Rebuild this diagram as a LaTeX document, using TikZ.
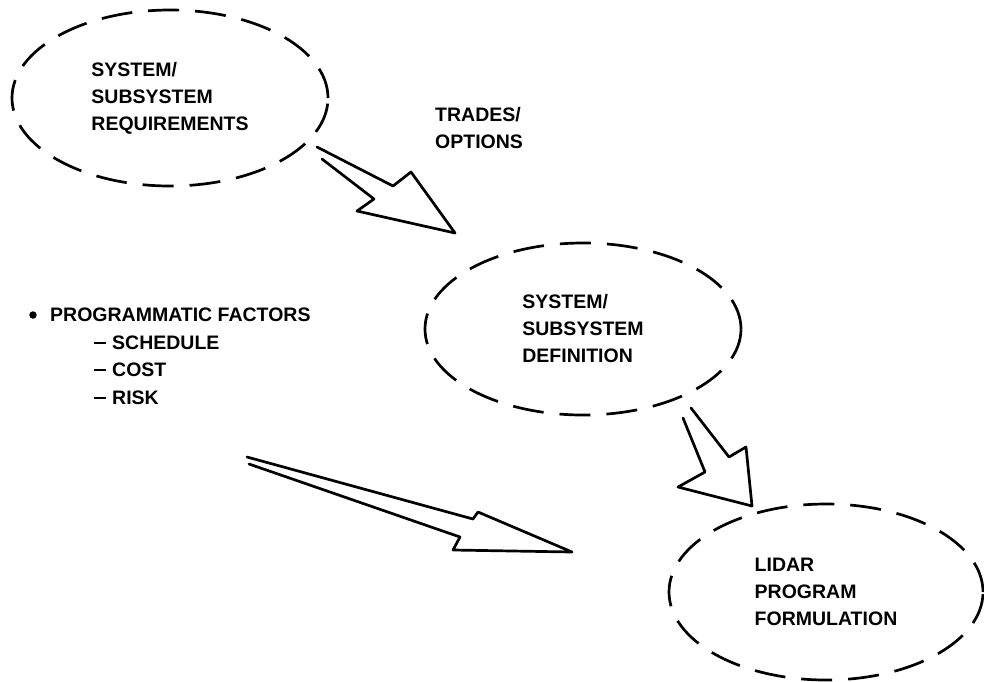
\documentclass[tikz,border=0pt]{standalone}
\usepackage{fontspec}
\setmainfont{Liberation Sans}
\usetikzlibrary{shapes.geometric}
\begin{document}
\begin{tikzpicture}[x=1pt,y=-1pt,
  bubble/.style={ellipse,draw,line width=2.7pt,dash pattern=on 31pt off 16pt,
    align=left,inner sep=0pt,font=\bfseries\fontsize{19.5}{27}\selectfont},
  lbl/.style={align=left,inner sep=0pt,anchor=west,font=\bfseries\fontsize{19.5}{27.5}\selectfont},
  blockarrow/.style={draw,line width=2.7pt,line join=round,line cap=round}]
\useasboundingbox (0,0) rectangle (984,681);
\node[bubble,minimum width=316pt,minimum height=176pt] (req) at (170,98)
  {SYSTEM/\\SUBSYSTEM\\REQUIREMENTS};
\node[bubble,minimum width=316pt,minimum height=172pt] (def) at (583,329)
  {SYSTEM/\\SUBSYSTEM\\DEFINITION};
\node[bubble,minimum width=314pt,minimum height=176pt] (lidar) at (826,592)
  {LIDAR\\PROGRAM\\FORMULATION};
\node[lbl] (trades) at (435,128) {TRADES/\\OPTIONS};
\node[circle,fill,inner sep=0pt,minimum size=7.5pt] (dot) at (33,315) {};
\node[lbl] (prog) at (50,315) {PROGRAMMATIC FACTORS};
\node[lbl] (sched) at (94,343) {\rule[0.3em]{12pt}{2.2pt}\hspace{6pt}SCHEDULE};
\node[lbl] (cost) at (94,370) {\rule[0.3em]{12pt}{2.2pt}\hspace{6pt}COST};
\node[lbl] (risk) at (94,398) {\rule[0.3em]{12pt}{2.2pt}\hspace{6pt}RISK};
% arrow 1: requirements -> definition
\draw[blockarrow] (317,147) -- (393,186) -- (411,172) -- (455,233) -- (357,211) -- (374,199) -- (322,159);
% arrow 2: definition -> lidar
\draw[blockarrow] (691,408) -- (729,457) -- (746,447) -- (752,506) -- (678,487) -- (705,472) -- (683,418);
% arrow 3: programmatic factors -> lidar
\draw[blockarrow] (247,457) -- (473,519) -- (478,512) -- (572,552) -- (453,550) -- (460,537) -- (249,464);
\end{tikzpicture}
\end{document}
